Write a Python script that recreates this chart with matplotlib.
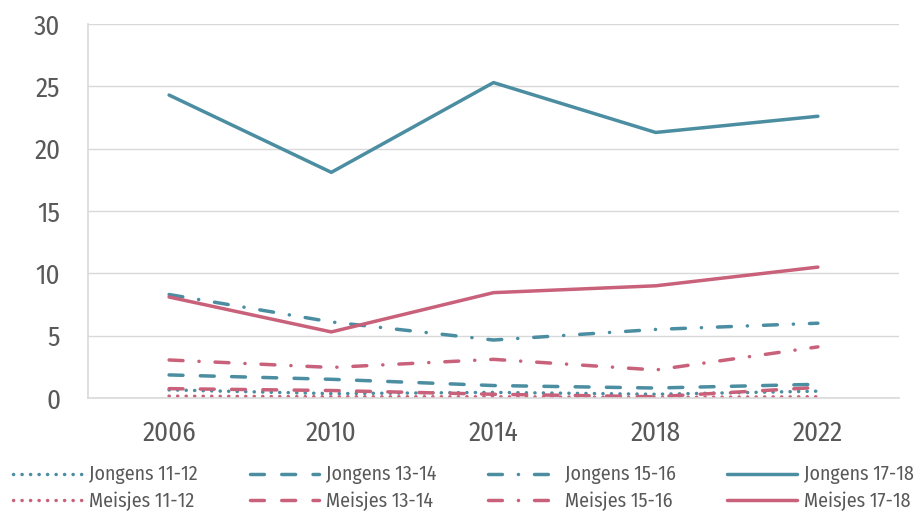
import matplotlib
matplotlib.use("Agg")
import matplotlib.pyplot as plt

plt.rcParams['font.family'] = ['Fira Sans Condensed', 'DejaVu Sans']

years = ['2006', '2010', '2014', '2018', '2022']

jongens_11_12 = [0.65, 0.35, 0.45, 0.3, 0.55]
jongens_13_14 = [1.85, 1.5, 1.0, 0.8, 1.1]
jongens_15_16 = [8.3, 6.1, 4.65, 5.5, 6.0]
jongens_17_18 = [24.3, 18.1, 25.3, 21.3, 22.6]

meisjes_11_12 = [0.15, 0.1, 0.1, 0.05, 0.1]
meisjes_13_14 = [0.75, 0.6, 0.3, 0.1, 0.85]
meisjes_15_16 = [3.05, 2.45, 3.1, 2.25, 4.1]
meisjes_17_18 = [8.1, 5.3, 8.45, 9.0, 10.5]

blue = '#4B8DA1'
pink = '#C9617B'
lw = 2.5

dotted = (0, (0.05, 2.4))
dashed = (0, (4.0, 5.0))
dashdot = (0, (4.0, 4.6, 0.05, 4.6))

series = [
    ('Jongens 11-12', jongens_11_12, blue, dotted),
    ('Meisjes 11-12', meisjes_11_12, pink, dotted),
    ('Jongens 13-14', jongens_13_14, blue, dashed),
    ('Meisjes 13-14', meisjes_13_14, pink, dashed),
    ('Jongens 15-16', jongens_15_16, blue, dashdot),
    ('Meisjes 15-16', meisjes_15_16, pink, dashdot),
    ('Jongens 17-18', jongens_17_18, blue, '-'),
    ('Meisjes 17-18', meisjes_17_18, pink, '-'),
]

fig = plt.figure(figsize=(9.24, 5.12), dpi=100)
ax = fig.add_axes([88 / 924, 114 / 512, 811 / 924, 374 / 512])

x = list(range(len(years)))
for label, vals, color, style in series:
    ax.plot(x, vals, color=color, linestyle=style, linewidth=lw,
            dash_capstyle='round', solid_capstyle='round', label=label)

ax.set_xlim(-0.5, len(years) - 0.5)
ax.set_ylim(0, 30)
ax.set_yticks(range(0, 31, 5))
ax.set_xticks(x)
ax.set_xticklabels(years)
ax.tick_params(axis='both', length=0, labelsize=19.5, colors='#595959')
ax.tick_params(axis='y', pad=20)
ax.tick_params(axis='x', pad=16)

ax.grid(axis='y', color='#D9D9D9', linewidth=1)
ax.set_axisbelow(True)
for side in ['top', 'right']:
    ax.spines[side].set_visible(False)
for side in ['left', 'bottom']:
    ax.spines[side].set_color('#D9D9D9')
    ax.spines[side].set_linewidth(1.2)

leg = fig.legend(loc='lower left', bbox_to_anchor=(13 / 924, 1 / 512), ncol=4,
                 frameon=False, fontsize=14.3, handlelength=3.5,
                 handletextpad=0.35, columnspacing=2.6, labelspacing=0.35,
                 labelcolor='#595959', borderaxespad=0.0, borderpad=0.0)

fig.savefig('out.png', dpi=100)
